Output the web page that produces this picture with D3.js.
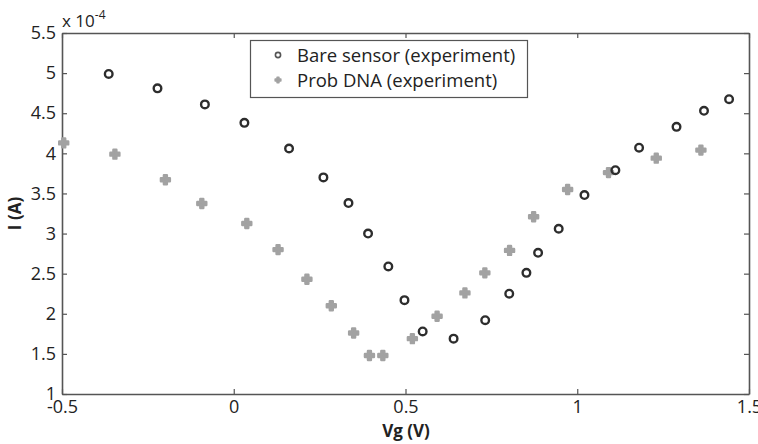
<!DOCTYPE html>
<html>
<head>
<meta charset="utf-8">
<script src="https://cdn.jsdelivr.net/npm/d3@7"></script>
<style>
  body { margin: 0; background: #fff; }
  text { font-family: "Open Sans", "Noto Sans", sans-serif; fill: #222; }
</style>
</head>
<body>
<svg id="chart"></svg>
<script>
const width = 758;
const height = 444;
const margin = {top: 33, right: 9, bottom: 50, left: 62};

// Bare sensor (experiment), current in units of 1e-4 A
const bareVg = [-0.364, -0.222, -0.084, 0.031, 0.161, 0.261, 0.334, 0.391, 0.450, 0.497, 0.550, 0.640,
  0.732, 0.802, 0.852, 0.886, 0.946, 1.021, 1.111, 1.180, 1.289, 1.369, 1.442];
const bareI = [4.99, 4.81, 4.61, 4.38, 4.06, 3.70, 3.38, 3.00, 2.59, 2.17, 1.78, 1.69,
  1.92, 2.25, 2.51, 2.76, 3.06, 3.48, 3.79, 4.07, 4.33, 4.53, 4.675];

// Prob DNA (experiment)
const dnaVg = [-0.495, -0.346, -0.199, -0.093, 0.038, 0.129, 0.213, 0.284, 0.349, 0.395, 0.434,
  0.520, 0.592, 0.673, 0.731, 0.803, 0.873, 0.972, 1.091, 1.230, 1.360];
const dnaI = [4.13, 3.99, 3.67, 3.375, 3.125, 2.80, 2.43, 2.10, 1.76, 1.48, 1.48,
  1.69, 1.97, 2.26, 2.51, 2.79, 3.21, 3.55, 3.76, 3.94, 4.04];

const xTicks = [-0.5, 0, 0.5, 1, 1.5];
const yTicks = [1, 1.5, 2, 2.5, 3, 3.5, 4, 4.5, 5, 5.5];
const seriesNames = ["Bare sensor (experiment)", "Prob DNA (experiment)"];

const svg = d3.select("#chart").attr("width", width).attr("height", height);

const x = d3.scaleLinear().domain([-0.5, 1.5]).range([margin.left, width - margin.right]);
const y = d3.scaleLinear().domain([1, 5.5]).range([height - margin.bottom, margin.top]);

const fmt = d => String(d);
const axisColor = "#555";

// Axes: bottom/left with labels, top/right inward ticks only
const gBottom = svg.append("g").attr("transform", `translate(0,${y(1)})`)
  .call(d3.axisBottom(x).tickValues(xTicks).tickFormat(fmt).tickSizeInner(-5).tickSizeOuter(0));
const gLeft = svg.append("g").attr("transform", `translate(${x(-0.5)},0)`)
  .call(d3.axisLeft(y).tickValues(yTicks).tickFormat(fmt).tickSizeInner(-5).tickSizeOuter(0).tickPadding(6));
const gTop = svg.append("g").attr("transform", `translate(0,${y(5.5)})`)
  .call(d3.axisTop(x).tickValues(xTicks).tickFormat("").tickSizeInner(-5).tickSizeOuter(0));
const gRight = svg.append("g").attr("transform", `translate(${x(1.5)},0)`)
  .call(d3.axisRight(y).tickValues(yTicks).tickFormat("").tickSizeInner(-5).tickSizeOuter(0));

[gBottom, gLeft, gTop, gRight].forEach(g => {
  g.selectAll("path.domain").attr("stroke", axisColor).attr("stroke-width", 1.6);
  g.selectAll(".tick line").attr("stroke", axisColor).attr("stroke-width", 1.2);
  g.selectAll(".tick text").attr("font-size", 18).attr("fill", "#222")
    .style("font-family", "'Open Sans', sans-serif");
});
gBottom.selectAll(".tick text").attr("dy", "0.71em").attr("y", 6);

// Exponent label
const expo = svg.append("text").attr("x", x(-0.5)).attr("y", 27).attr("font-size", 17);
expo.append("tspan").text("x 10");
expo.append("tspan").attr("dy", -8).attr("font-size", 12).text("-4");

// Axis titles
svg.append("text").attr("x", 406).attr("y", 437)
  .attr("text-anchor", "middle").attr("font-size", 17).attr("font-weight", "bold").text("Vg (V)");
svg.append("text").attr("transform", `translate(21,${y(3.25)}) rotate(-90)`)
  .attr("text-anchor", "middle").attr("font-size", 17).attr("font-weight", "bold").text("I (A)");

// Markers
const crossPath = d3.symbol().type(d3.symbolCross).size(45)();
const dnaColor = "#a2a2a2";
const bareColor = "#2d2d2d";

svg.append("g").selectAll("path")
  .data(d3.range(dnaVg.length))
  .join("path")
  .attr("d", crossPath)
  .attr("transform", i => `translate(${x(dnaVg[i])},${y(dnaI[i])})`)
  .attr("fill", dnaColor).attr("stroke", dnaColor).attr("stroke-width", 2.4).attr("stroke-linejoin", "round");

svg.append("g").selectAll("circle")
  .data(d3.range(bareVg.length))
  .join("circle")
  .attr("cx", i => x(bareVg[i]))
  .attr("cy", i => y(bareI[i]))
  .attr("r", 3.8)
  .attr("fill", "none").attr("stroke", bareColor).attr("stroke-width", 2.4);

// Legend
const lg = svg.append("g");
lg.append("rect").attr("x", 250.5).attr("y", 40.5).attr("width", 277).attr("height", 57)
  .attr("fill", "#fff").attr("stroke", axisColor).attr("stroke-width", 1.2);
lg.append("circle").attr("cx", 278).attr("cy", 55).attr("r", 2.6)
  .attr("fill", "none").attr("stroke", "#555").attr("stroke-width", 1.6);
lg.append("path").attr("d", d3.symbol().type(d3.symbolCross).size(18)())
  .attr("transform", "translate(278,80)")
  .attr("fill", dnaColor).attr("stroke", dnaColor).attr("stroke-width", 1.5).attr("stroke-linejoin", "round");
lg.selectAll("text.lbl").data(seriesNames).join("text").attr("class", "lbl")
  .attr("x", 297).attr("y", (d, i) => 62 + i * 25)
  .attr("font-size", 18.5).text(d => d);
</script>
</body>
</html>
